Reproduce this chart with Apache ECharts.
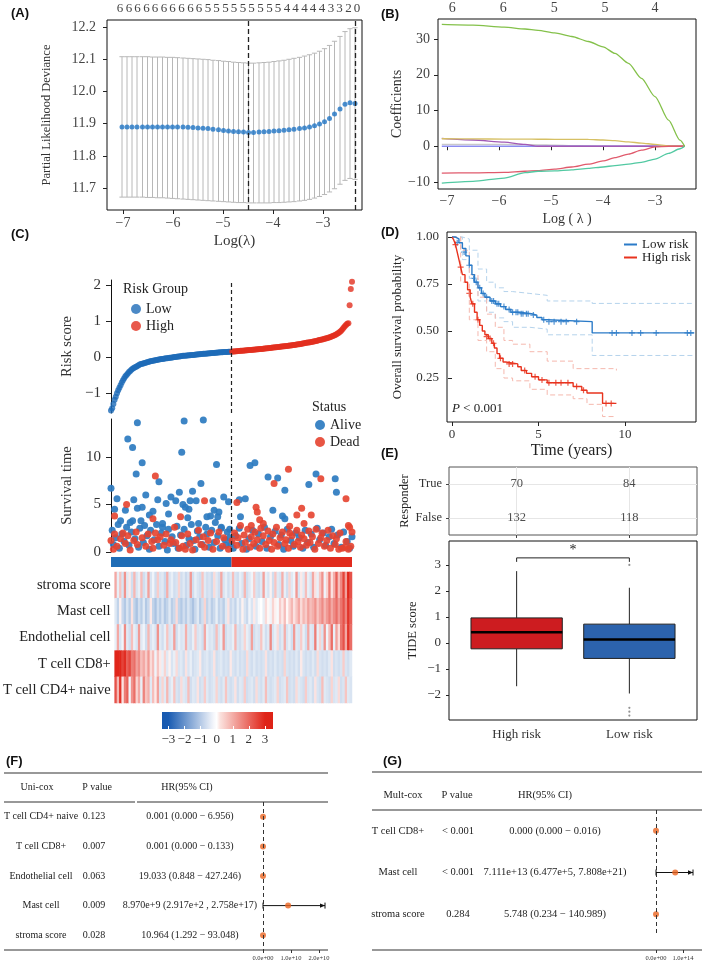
<!DOCTYPE html>
<html><head><meta charset="utf-8">
<script src="https://cdn.jsdelivr.net/npm/echarts@6/dist/echarts.min.js"></script>
<style>html,body{margin:0;padding:0;background:#fff}#c{width:709px;height:971px}</style>
</head><body><div id="c"></div>
<script>
const SERIF='"Liberation Serif","Times New Roman","DejaVu Serif",serif';
const SANS='"Liberation Sans",Arial,sans-serif';

// ---------- Panel A : CV deviance ----------
const lamA=[-7.02,-6.92,-6.82,-6.72,-6.61,-6.51,-6.41,-6.31,-6.21,-6.11,-6.01,-5.91,-5.80,-5.70,-5.60,-5.50,-5.40,-5.30,-5.20,-5.09,-4.99,-4.89,-4.79,-4.69,-4.59,-4.49,-4.39,-4.28,-4.18,-4.08,-3.98,-3.88,-3.78,-3.68,-3.58,-3.47,-3.37,-3.27,-3.17,-3.07,-2.97,-2.87,-2.77,-2.66,-2.56,-2.46,-2.36];
const devMean=[11.890,11.890,11.890,11.890,11.890,11.890,11.890,11.890,11.890,11.890,11.890,11.890,11.890,11.889,11.888,11.887,11.886,11.885,11.883,11.881,11.879,11.877,11.876,11.875,11.874,11.873,11.873,11.874,11.875,11.876,11.877,11.878,11.880,11.881,11.883,11.885,11.887,11.890,11.894,11.899,11.906,11.916,11.930,11.946,11.960,11.965,11.963];
const devUpper=[12.108,12.108,12.108,12.108,12.108,12.108,12.107,12.107,12.107,12.106,12.106,12.105,12.104,12.103,12.102,12.101,12.100,12.099,12.097,12.096,12.094,12.093,12.091,12.090,12.089,12.088,12.088,12.089,12.090,12.091,12.093,12.095,12.097,12.100,12.103,12.106,12.110,12.114,12.119,12.125,12.133,12.143,12.156,12.171,12.186,12.195,12.198];
const devLower=[11.672,11.672,11.672,11.672,11.672,11.671,11.671,11.670,11.670,11.669,11.668,11.667,11.666,11.665,11.664,11.663,11.662,11.661,11.660,11.659,11.658,11.657,11.656,11.655,11.655,11.654,11.654,11.654,11.654,11.654,11.655,11.655,11.656,11.657,11.658,11.660,11.662,11.665,11.669,11.674,11.680,11.688,11.698,11.712,11.724,11.730,11.727];
const lamTopA=[-7.06,-6.88,-6.71,-6.53,-6.36,-6.18,-6.01,-5.83,-5.65,-5.48,-5.30,-5.13,-4.95,-4.78,-4.60,-4.43,-4.25,-4.07,-3.90,-3.72,-3.55,-3.37,-3.20,-3.02,-2.84,-2.67,-2.49,-2.32];
const dfTopA=[6,6,6,6,6,6,6,6,6,6,5,5,5,5,5,5,5,5,5,4,4,4,4,4,3,3,2,0];
const lamMinA=-4.49, lam1seA=-2.36;

// ---------- Panel B : coefficient paths ----------
const lamB=[-7.1,-6.5,-5.9,-5.5,-5.25,-4.93,-4.6,-4.28,-4.0,-3.77,-3.51,-3.26,-3.0,-2.74,-2.52,-2.43];
const coefGreen=[34.1,33.9,33.3,32.8,32.4,31.7,30.7,29.3,27.8,26.0,23.2,19.0,13.9,7.3,1.7,0];
const coefYellow=[2.1,2.05,2.0,1.98,1.96,1.95,1.93,1.9,1.75,1.55,1.2,0.9,0.5,0.1,0,0];
const coefPurple=[2.2,1.75,1.15,0.5,0,0,0,0,0,0,0,0,0,0,0,0];
const coefGrey=[0.55,0.55,0.5,0.45,0.4,0.3,0.2,0.1,0,0,0,0,0,0,0,0];
const coefLavender=[0,0,0,0,0,0,0,0,0,0,0,0,0,0,0,0];
const coefRed=[-7.5,-7.45,-7.3,-7.0,-6.8,-6.4,-5.8,-5.0,-4.1,-3.2,-2.2,-1.1,-0.2,0,0,0];
const coefTeal=[-10.3,-9.8,-8.9,-7.4,-7.0,-6.9,-6.6,-6.2,-5.8,-5.4,-5.0,-4.5,-3.6,-2.0,-0.7,0];
const lamTopB=[-6.9,-5.92,-4.94,-3.96,-3.0];
const dfTopB=[6,6,5,5,4];

// ---------- Panel C : risk score / survival / heatmap ----------
const riskLow=[-1.48,-1.42,-1.30,-1.18,-1.10,-1.00,-0.92,-0.85,-0.78,-0.70,
-0.64,-0.58,-0.53,-0.49,-0.45,-0.41,-0.38,-0.35,-0.32,-0.30,
-0.28,-0.26,-0.24,-0.22,-0.20,-0.19,-0.18,-0.17,-0.16,-0.15,
-0.14,-0.13,-0.12,-0.11,-0.10,-0.095,-0.09,-0.08,-0.075,-0.07,
-0.06,-0.055,-0.05,-0.045,-0.04,-0.035,-0.03,-0.025,-0.02,-0.015,
-0.01,-0.005,0,0.005,0.01,0.015,0.02,0.025,0.03,0.035,
0.04,0.043,0.046,0.049,0.052,0.055,0.058,0.061,0.064,0.067,
0.07,0.074,0.078,0.082,0.086,0.089,0.092,0.095,0.098,0.101,
0.104,0.107,0.11,0.113,0.116,0.119,0.122,0.125,0.128,0.131,
0.134,0.137,0.14,0.142,0.144,0.146,0.148,0.15,0.152,0.154,0.156];
const riskHigh=[0.158,0.161,0.164,0.167,0.17,0.173,0.176,0.179,0.182,0.185,
0.188,0.191,0.194,0.197,0.2,0.203,0.206,0.209,0.212,0.215,
0.218,0.221,0.224,0.227,0.23,0.233,0.237,0.241,0.245,0.249,
0.253,0.257,0.261,0.265,0.269,0.273,0.277,0.281,0.285,0.289,
0.293,0.297,0.301,0.305,0.309,0.313,0.317,0.321,0.325,0.33,
0.335,0.34,0.345,0.35,0.355,0.36,0.366,0.372,0.378,0.384,
0.39,0.396,0.402,0.408,0.414,0.42,0.427,0.434,0.441,0.448,
0.455,0.463,0.471,0.479,0.487,0.495,0.504,0.513,0.522,0.532,
0.542,0.553,0.565,0.578,0.592,0.607,0.623,0.64,0.66,0.68,
0.71,0.74,0.78,0.82,0.86,0.9,0.93,0.95,1.45,1.9,2.1];
// [rank, survival years]
const alivePts=[[2,2.3],[3,0.8],[5,1.5],[7,2.9],[8,0.4],[10,1.9],[12,1.1],[14,2.6],[16,0.7],[18,2.1],[19,3.3],[21,1.4],[24,0.5],[25,2.5],[26,3.3],[28,1.0],[29,2.8],[31,1.7],[33,0.3],[34,2.3],[37,1.3],[39,2.9],[41,0.6],[43,2.0],[44,2.6],[46,1.1],[48,0.2],[49,2.4],[52,1.6],[53,0.9],[56,2.7],[57,0.4],[59,1.8],[62,2.4],[64,0.7],[66,1.4],[68,2.9],[70,1.2],[71,0.3],[73,2.2],[75,1.6],[77,0.8],[80,2.6],[81,1.9],[83,0.5],[85,2.3],[87,1.0],[88,3.1],[90,1.7],[92,0.4],[93,2.5],[96,1.3],[97,0.7],[98,2.1],[100,1.5],[101,0.9],
[1,6.7],[4,4.5],[6,5.6],[13,4.4],[15,11.9],[19,11.0],[20,5.5],[22,8.2],[23,13.6],[23,4.6],[27,9.4],[27,4.7],[30,6.0],[36,4.3],[40,5.5],[41,7.4],[44,3.0],[47,5.1],[51,5.8],[55,5.4],[58,6.3],[60,10.5],[61,5.0],[62,13.8],[63,4.7],[66,4.5],[67,5.4],[69,6.4],[72,5.4],[74,3.0],[76,7.2],[78,13.9],[81,3.7],[86,5.4],[87,4.4],[89,9.2],[90,3.7],[91,4.2],[93,2.6],[95,5.8],[99,5.3],[100,2.4],[9,3.3],[17,3.1],[33,3.9],[49,4.0],[65,3.6],[84,3.8],
[103,0.4],[105,1.7],[108,2.5],[110,0.9],[114,0.3],[116,1.4],[119,2.3],[122,0.6],[124,1.9],[127,1.1],[129,2.6],[131,0.4],[134,1.6],[138,2.2],[141,0.8],[143,1.8],[145,0.3],[148,2.4],[151,1.2],[153,0.6],[155,2.0],[158,1.5],[161,0.4],[163,2.3],[165,1.0],[168,1.9],[170,0.5],[173,2.5],[175,1.3],[178,2.0],[180,0.7],[183,1.6],[185,2.4],[187,0.9],[190,1.8],[193,0.5],[195,2.1],[198,1.1],[200,0.4],[202,1.6],
[108,5.5],[109,3.7],[113,5.6],[117,9.1],[121,9.4],[132,7.9],[136,4.4],[140,7.8],[146,6.5],[144,3.8],[146,3.5],[166,7.1],[172,8.2],[188,7.7],[189,6.3]];
const deadPts=[[1,1.2],[3,0.3],[4,1.9],[6,0.6],[9,1.4],[11,2.0],[13,0.9],[15,1.7],[17,0.2],[20,1.2],[22,2.1],[23,0.8],[27,1.5],[30,0.6],[32,1.9],[35,1.1],[36,0.4],[38,2.0],[40,1.3],[42,1.6],[45,0.7],[47,1.9],[50,0.9],[51,1.3],[54,2.6],[55,1.0],[58,0.4],[60,1.7],[61,0.6],[63,0.3],[65,1.9],[67,0.9],[69,0.2],[72,1.3],[74,2.3],[76,0.8],[78,1.6],[79,0.5],[82,1.2],[84,2.0],[86,0.3],[89,1.1],[91,2.1],[94,0.6],[95,1.5],[99,0.3],
[4,3.8],[14,5.0],[36,3.5],[38,8.0],[59,3.7],[79,5.4],
[102,1.2],[104,2.0],[106,0.7],[107,1.5],[109,2.8],[111,0.3],[112,1.8],[113,1.0],[115,2.4],[117,0.5],[118,1.6],[120,0.9],[121,2.1],[123,1.3],[125,0.4],[126,2.5],[128,1.7],[130,0.8],[132,2.2],[133,1.2],[135,0.3],[136,1.9],[137,1.0],[139,2.6],[140,0.6],[142,1.5],[144,2.1],[146,0.9],[147,1.3],[149,0.4],[150,2.0],[152,1.7],[154,0.8],[156,2.3],[157,1.1],[159,0.5],[160,1.8],[162,1.4],[164,0.7],[166,2.2],[167,1.0],[169,1.6],[171,0.3],[172,2.4],[174,0.9],[176,1.5],[177,2.0],[179,0.6],[181,1.2],[182,2.3],[184,0.4],[186,1.7],[188,0.8],[189,1.4],[191,0.3],[192,2.0],[194,0.4],[196,0.5],[197,1.1],[199,0.3],[201,0.6],[202,2.1],
[106,5.2],[118,2.8],[122,4.7],[123,4.2],[125,3.4],[128,3.0],[137,7.2],[149,8.7],[150,2.7],[156,3.9],[160,4.6],[162,3.0],[168,3.9],[176,7.7],[197,5.6],[199,2.8],[200,2.6]];
const heatRows=['stroma score','Mast cell','Endothelial cell','T cell CD8+','T cell CD4+ naive'];
const heatStroma=[1.2,-0.3,0.8,-0.5,1.5,-0.4,0.3,-0.6,1.0,-0.5,
-0.3,0.9,-0.6,-0.4,1.3,-0.5,-0.2,-0.6,0.7,-0.5,
-0.4,-0.7,1.1,-0.5,-0.3,-0.6,-0.5,0.6,-0.6,-0.4,
-0.7,-0.5,1.4,-0.6,-0.3,-0.5,-0.6,0.8,-0.4,-0.6,
-0.5,-0.7,0.5,-0.4,-0.6,1.2,-0.5,-0.3,-0.6,-0.4,
0.9,-0.5,-0.6,-0.3,-0.5,1.0,-0.6,-0.4,-0.2,0.7,
-0.5,-0.6,-0.4,1.3,-0.3,-0.5,0.2,-0.6,0.8,-0.4,
-0.5,1.1,-0.3,-0.6,0.6,-0.4,-0.2,1.4,-0.5,0.3,
-0.4,0.9,-0.3,-0.5,1.2,0.4,-0.3,0.8,1.5,-0.2,
0.6,1.8,0.4,1.1,2.2,0.9,1.6,2.6,1.3,3.0,2.4];
const heatMast=[-0.4,-0.8,0.2,-0.7,-1.0,-0.5,-0.9,0.4,-0.8,-1.1,
-0.6,-0.9,-0.4,-1.0,-0.7,0.3,-0.8,-1.1,-0.6,-0.9,
-0.5,-1.0,-0.8,-0.4,-0.9,-0.7,0.5,-0.8,-1.0,-0.6,
-0.9,-0.5,-0.8,-1.1,-0.7,-0.4,-0.9,-0.6,0.6,-0.8,
-0.5,-0.9,-0.7,-0.3,-0.8,-0.6,-0.9,-0.4,0.4,-0.7,
-0.5,-0.8,-0.3,-0.6,0.2,-0.5,-0.7,-0.2,-0.5,0.3,
-0.4,-0.1,0.0,-0.3,0.5,0.1,-0.2,0.6,0.2,-0.1,
0.7,0.3,0.9,0.1,0.6,1.0,0.4,0.8,1.2,0.5,
1.0,0.7,1.3,0.9,1.1,1.5,0.8,1.2,1.6,1.0,
1.4,1.8,1.2,1.6,2.0,1.4,1.9,2.4,1.7,2.8,2.2];
const heatEndo=[-0.3,1.2,-0.5,-0.2,1.6,-0.4,-0.6,0.9,-0.3,-0.5,
1.4,-0.4,-0.2,-0.6,1.0,-0.5,-0.3,-0.5,1.5,-0.4,
-0.6,-0.3,0.8,-0.5,-0.4,1.3,-0.6,-0.3,-0.5,-0.4,
1.1,-0.5,-0.6,-0.3,0.7,-0.5,-0.4,-0.6,1.2,-0.3,
-0.5,-0.4,-0.6,0.9,-0.5,-0.3,1.4,-0.6,-0.4,-0.5,
-0.3,1.0,-0.5,-0.6,-0.4,0.6,-0.3,-0.5,1.3,-0.6,
-0.4,-0.5,0.8,-0.3,-0.6,-0.4,1.6,-0.5,-0.3,0.5,
-0.6,-0.4,1.1,-0.5,-0.3,-0.6,1.4,-0.4,-0.5,0.7,
-0.3,-0.6,1.2,-0.4,-0.5,1.8,-0.3,0.6,-0.5,1.5,
-0.2,0.9,2.0,-0.3,1.3,0.5,1.9,2.4,1.2,2.8,2.0];
const heatCD8=[3.4,3.0,3.2,2.6,2.9,2.2,2.5,1.8,2.0,1.3,
1.6,0.9,1.2,0.7,1.4,0.5,0.9,-0.2,0.8,0.3,
-0.3,0.6,-0.4,0.2,-0.5,-0.3,0.5,-0.5,-0.4,-0.6,
0.4,-0.5,-0.3,-0.6,-0.5,-0.4,0.3,-0.6,-0.5,-0.4,
-0.6,-0.5,0.4,-0.6,-0.5,-0.4,-0.6,-0.5,-0.6,0.3,
-0.5,-0.6,-0.4,-0.6,-0.5,-0.6,0.5,-0.5,-0.6,-0.4,
-0.6,-0.5,-0.6,-0.5,0.4,-0.6,-0.5,-0.6,-0.4,-0.6,
-0.5,-0.6,0.6,-0.5,-0.6,-0.5,-0.6,-0.4,-0.6,0.3,
-0.5,-0.6,-0.5,-0.6,-0.4,-0.6,0.5,-0.5,-0.6,-0.5,
-0.6,-0.4,0.4,-0.6,-0.5,-0.6,-0.5,0.7,-0.5,-0.6,-0.4];
const heatCD4=[2.4,1.0,2.8,0.4,1.8,2.2,-0.2,1.5,2.0,0.6,
1.2,-0.3,1.7,0.8,1.1,-0.4,0.9,0.3,1.3,-0.5,
0.6,-0.4,1.0,-0.5,-0.3,0.8,-0.5,-0.6,0.5,-0.4,
-0.5,0.9,-0.6,-0.4,-0.5,0.4,-0.6,-0.5,0.7,-0.4,
-0.6,-0.5,-0.4,0.6,-0.5,-0.6,-0.4,0.8,-0.5,-0.6,
-0.5,0.4,-0.6,-0.4,-0.5,0.7,-0.6,-0.5,-0.4,-0.6,
0.5,-0.5,-0.6,-0.4,0.9,-0.5,-0.6,-0.5,-0.4,0.6,
-0.6,-0.5,-0.4,0.8,-0.6,-0.5,-0.6,0.5,-0.4,-0.5,
-0.6,0.7,-0.5,-0.4,-0.6,0.4,-0.5,-0.6,0.9,-0.4,
-0.5,-0.6,0.6,-0.5,-0.4,0.5,-0.6,-0.5,0.8,-0.4,-0.5];
const colorbarTicks=[-3,-2,-1,0,1,2,3];

// ---------- Panel D : Kaplan-Meier ----------
const kmLow=[[0,1],[0.2,0.99],[0.4,0.97],[0.6,0.94],[0.8,0.9],[1.0,0.85],[1.15,0.8],[1.3,0.76],[1.5,0.73],[1.7,0.7],[1.9,0.68],[2.2,0.66],[2.5,0.645],[2.8,0.63],[3.1,0.615],[3.4,0.6],[3.9,0.592],[4.6,0.585],[4.9,0.572],[5.2,0.56],[5.5,0.55],[8.1,0.49],[14,0.49]];
const kmHigh=[[0,1],[0.1,0.985],[0.2,0.96],[0.3,0.92],[0.4,0.88],[0.5,0.84],[0.6,0.8],[0.75,0.76],[0.9,0.72],[1.05,0.68],[1.15,0.645],[1.3,0.6],[1.45,0.56],[1.6,0.53],[1.75,0.5],[1.9,0.48],[2.1,0.46],[2.3,0.435],[2.45,0.41],[2.6,0.38],[2.75,0.355],[2.95,0.335],[3.1,0.325],[3.8,0.31],[4.0,0.29],[4.3,0.275],[4.6,0.257],[5.0,0.24],[5.5,0.225],[7.0,0.205],[7.5,0.185],[7.8,0.17],[8.7,0.115],[9.5,0.115]];
const censorLow=[[0.3,0.97],[0.7,0.92],[1.0,0.85],[1.25,0.78],[1.4,0.76],[1.6,0.73],[1.8,0.7],[2.0,0.68],[2.3,0.66],[2.4,0.66],[2.6,0.645],[2.7,0.645],[3.0,0.63],[3.3,0.615],[3.5,0.6],[3.7,0.6],[3.8,0.6],[4.0,0.592],[4.1,0.592],[4.3,0.592],[4.4,0.592],[4.7,0.585],[5.3,0.56],[5.6,0.55],[5.9,0.55],[6.3,0.55],[6.6,0.55],[7.2,0.55],[9.25,0.49],[9.5,0.49],[10.4,0.49],[10.9,0.49],[11.8,0.49],[13.6,0.49],[13.8,0.49]];
const censorHigh=[[0.2,0.96],[0.5,0.84],[1.0,0.7],[1.2,0.645],[1.5,0.56],[2.0,0.47],[2.2,0.46],[2.4,0.435],[2.8,0.355],[3.3,0.325],[3.5,0.325],[4.2,0.29],[4.8,0.257],[5.2,0.24],[5.6,0.225],[6.0,0.225],[6.3,0.225],[6.7,0.225],[7.2,0.205],[7.6,0.185],[8.9,0.115],[9.2,0.115]];
const ciLowUpper=[[0,1],[0.6,0.99],[1.0,0.93],[1.5,0.83],[2.0,0.76],[2.5,0.73],[3.0,0.71],[3.5,0.7],[4.5,0.69],[5.5,0.66],[8.1,0.647],[14,0.647]];
const ciLowLower=[[0,1],[0.6,0.88],[1.0,0.78],[1.5,0.66],[2.0,0.6],[2.5,0.57],[3.0,0.55],[3.5,0.52],[4.5,0.51],[5.5,0.48],[8.1,0.37],[14,0.37]];
const ciHighUpper=[[0,1],[0.5,0.93],[1.0,0.8],[1.5,0.68],[2.0,0.59],[2.5,0.52],[3.0,0.45],[3.5,0.43],[4.5,0.39],[5.5,0.34],[7.0,0.3],[9.5,0.29]];
const ciHighLower=[[0,1],[0.5,0.76],[1.0,0.56],[1.5,0.45],[2.0,0.39],[2.5,0.3],[3.0,0.25],[3.5,0.235],[4.5,0.19],[5.5,0.16],[7.0,0.14],[7.8,0.11],[8.7,0.045],[9.5,0.045]];

// ---------- Panel E : TIDE ----------
const riskGroups=['High risk','Low risk'];
const respTrue=[70,84];
const respFalse=[132,118];
const boxHigh=[-1.67,-0.23,0.41,0.96,2.76];
const boxLow=[-1.95,-0.6,0.13,0.72,2.12];
const outHigh=[];
const outLow=[3.0,-2.5,-2.65,-2.8];
const sigMark={from:1,to:2,y:3.27,label:'*'};

// ---------- Panel F : uni-cox ----------
const fNames=['T cell CD4+ naive','T cell CD8+','Endothelial cell','Mast cell','stroma score'];
const fP=['0.123','0.007','0.063','0.009','0.028'];
const fHRtext=['0.001 (0.000 − 6.956)','0.001 (0.000 − 0.133)','19.033 (0.848 − 427.246)','8.970e+9 (2.917e+2 , 2.758e+17)','10.964 (1.292 − 93.048)'];
const fHR=[0.001,0.001,19.033,8.970e9,10.964];
const fLo=[0.000,0.000,0.848,2.917e2,1.292];
const fHi=[6.956,0.133,427.246,2.758e17,93.048];
const fTicks=[0,1e10,2e10];
// ---------- Panel G : multi-cox ----------
const gNames=['T cell CD8+','Mast cell','stroma score'];
const gP=['< 0.001','< 0.001','0.284'];
const gHRtext=['0.000 (0.000 − 0.016)','7.111e+13 (6.477e+5, 7.808e+21)','5.748 (0.234 − 140.989)'];
const gHR=[0.000,7.111e13,5.748];
const gLo=[0.000,6.477e5,0.234];
const gHi=[0.016,7.808e21,140.989];
const gTicks=[0,1e14];

// ================= build =================
const minus=v=>(v<0?'−':'')+Math.abs(v);
const expFmt=v=>v.toExponential(1).replace(/e([+-])(\d+)$/,(m,s,d)=>'e'+s+(d.length<2?'0'+d:d));
const lbl=(size,color,extra)=>Object.assign({fontFamily:SERIF,fontSize:size,color:color||'#444'},extra||{});
const tick=(len,extra)=>Object.assign({show:true,length:len,lineStyle:{color:'#222',width:1}},extra||{});
const line0={show:true,onZero:false,lineStyle:{color:'#111',width:1}};
const noAx={show:false};

const grids=[
 {left:107,top:20,width:255,height:190,show:true,borderColor:'#111',borderWidth:1},
 {left:438,top:19,width:258,height:170,show:true,borderColor:'#111',borderWidth:1},
 {left:111,top:280,width:241,height:133},
 {left:111,top:419,width:241,height:133},
 {left:111,top:557,width:241,height:10},
 {left:111,top:572,width:241,height:131},
 {left:162,top:712,width:111,height:17},
 {left:447,top:232,width:249,height:190,show:true,borderColor:'#111',borderWidth:1},
 {left:449,top:467,width:248,height:68,show:true,borderColor:'#555',borderWidth:1},
 {left:449,top:541,width:248,height:179,show:true,borderColor:'#111',borderWidth:1},
 {left:263,top:802,width:62,height:148},
 {left:656,top:810,width:37,height:125}
];

const nRisk=riskLow.length+riskHigh.length;
const heatAll=[heatStroma,heatMast,heatEndo,heatCD8,heatCD4];
const nCols=Math.max(...heatAll.map(r=>r.length));
const heatData=[];
heatAll.forEach((row,r)=>row.forEach((v,c)=>heatData.push([c,r,v])));

const xAxes=[
 {gridIndex:0,type:'value',min:-7.32,max:-2.22,axisLine:noAx,splitLine:noAx,axisTick:tick(4,{customValues:[-7,-6,-5,-4,-3]}),axisLabel:lbl(14,'#444',{customValues:[-7,-6,-5,-4,-3],formatter:minus,margin:6}),name:'Log(λ)',nameLocation:'middle',nameGap:24,nameTextStyle:lbl(15,'#333')},
 {gridIndex:0,type:'value',position:'top',min:-7.32,max:-2.22,axisLine:noAx,splitLine:noAx,axisTick:noAx,axisLabel:lbl(13,'#444',{customValues:lamTopA,formatter:v=>String(dfTopA[lamTopA.indexOf(v)]),margin:5})},
 {gridIndex:1,type:'value',min:-7.173,max:-2.212,axisLine:noAx,splitLine:noAx,axisTick:tick(4,{customValues:[-7,-6,-5,-4,-3]}),axisLabel:lbl(14,'#444',{customValues:[-7,-6,-5,-4,-3],formatter:minus,margin:5}),name:'Log ( λ )',nameLocation:'middle',nameGap:23,nameTextStyle:lbl(14,'#333')},
 {gridIndex:1,type:'value',position:'top',min:-7.173,max:-2.212,axisLine:noAx,splitLine:noAx,axisTick:noAx,axisLabel:lbl(14,'#444',{customValues:lamTopB,formatter:v=>String(dfTopB[lamTopB.indexOf(v)]),margin:4})},
 {gridIndex:2,type:'value',min:1,max:nRisk,show:false},
 {gridIndex:3,type:'value',min:1,max:nRisk,show:false},
 {gridIndex:4,type:'value',min:1,max:nRisk,show:false},
 {gridIndex:5,type:'category',data:Array.from({length:nCols},(_,i)=>String(i)),show:false},
 {gridIndex:6,type:'value',min:-3.4,max:3.5,z:10,axisLine:noAx,splitLine:noAx,axisTick:{show:true,inside:true,length:3,lineStyle:{color:'#fff',width:1},customValues:colorbarTicks},axisLabel:lbl(13,'#333',{customValues:colorbarTicks,formatter:minus,margin:4})},
 {gridIndex:7,type:'value',min:-0.29,max:14.1,axisLine:noAx,splitLine:noAx,axisTick:tick(4,{customValues:[0,5,10]}),axisLabel:lbl(13,'#333',{customValues:[0,5,10],margin:6}),name:'Time (years)',nameLocation:'middle',nameGap:21,nameTextStyle:lbl(16,'#222')},
 {gridIndex:8,type:'value',min:0.4,max:2.6,axisLine:noAx,splitLine:noAx,axisTick:tick(3,{customValues:[1,2],lineStyle:{color:'#444'}}),axisLabel:{show:false}},
 {gridIndex:9,type:'value',min:0.4,max:2.6,axisLine:noAx,splitLine:noAx,axisTick:tick(3,{customValues:[1,2]}),axisLabel:lbl(13,'#333',{customValues:[1,2],formatter:v=>riskGroups[Math.round(v)-1],margin:8})},
 {gridIndex:10,type:'value',min:0,max:2.214e10,axisLine:noAx,splitLine:noAx,axisTick:tick(3,{customValues:fTicks,lineStyle:{color:'#333'}}),axisLabel:lbl(6.5,'#333',{customValues:fTicks,formatter:expFmt,margin:5})},
 {gridIndex:11,type:'value',min:0,max:1.37e14,offset:15,axisLine:noAx,splitLine:noAx,axisTick:tick(3,{customValues:gTicks,lineStyle:{color:'#333'}}),axisLabel:lbl(6.5,'#333',{customValues:gTicks,formatter:expFmt,margin:5})}
];

const colLbl=(offset,data)=>({gridIndex:10,type:'category',inverse:true,data,position:'left',offset,axisLine:noAx,axisTick:noAx,splitLine:noAx,axisLabel:lbl(10,'#222',{align:'center',margin:0})});
const colLblG=(offset,data)=>({gridIndex:11,type:'category',inverse:true,data,position:'left',offset,axisLine:noAx,axisTick:noAx,splitLine:noAx,axisLabel:lbl(10.5,'#222',{align:'center',margin:0})});

const yAxes=[
 {gridIndex:0,type:'value',min:11.632,max:12.222,axisLine:noAx,splitLine:noAx,axisTick:tick(4,{customValues:[11.7,11.8,11.9,12.0,12.1,12.2]}),axisLabel:lbl(14,'#444',{customValues:[11.7,11.8,11.9,12.0,12.1,12.2],formatter:v=>v.toFixed(1),margin:11}),name:'Partial Likelihood Deviance',nameLocation:'middle',nameGap:54,nameTextStyle:lbl(12.5,'#333')},
 {gridIndex:1,type:'value',min:-11.96,max:35.6,axisLine:noAx,splitLine:noAx,axisTick:tick(4,{customValues:[-10,0,10,20,30]}),axisLabel:lbl(14,'#444',{customValues:[-10,0,10,20,30],formatter:minus,margin:8}),name:'Coefficients',nameLocation:'middle',nameGap:33,nameTextStyle:lbl(14,'#333')},
 {gridIndex:2,type:'value',min:-1.55,max:2.15,axisLine:line0,splitLine:noAx,axisTick:tick(5,{customValues:[-1,0,1,2]}),axisLabel:lbl(15,'#333',{customValues:[-1,0,1,2],formatter:minus,margin:10}),name:'Risk score',nameLocation:'middle',nameGap:36,nameTextStyle:lbl(14.5,'#333')},
 {gridIndex:3,type:'value',min:0,max:14,axisLine:line0,splitLine:noAx,axisTick:tick(5,{customValues:[0,5,10]}),axisLabel:lbl(15,'#333',{customValues:[0,5,10],margin:10}),name:'Survival time',nameLocation:'middle',nameGap:36,nameTextStyle:lbl(14.5,'#333')},
 {gridIndex:4,type:'value',min:0,max:1,show:false},
 {gridIndex:5,type:'category',inverse:true,data:heatRows,axisLine:noAx,axisTick:noAx,splitLine:noAx,axisLabel:lbl(14.5,'#222',{margin:4})},
 {gridIndex:6,type:'value',min:0,max:1,show:false},
 {gridIndex:7,type:'value',min:0.016,max:1.027,axisLine:noAx,splitLine:noAx,axisTick:tick(4,{customValues:[0.25,0.5,0.75,1]}),axisLabel:lbl(13,'#333',{customValues:[0.25,0.5,0.75,1],formatter:v=>v.toFixed(2),margin:8}),name:'Overall survival probability',nameLocation:'middle',nameGap:43,nameTextStyle:lbl(13,'#222')},
 {gridIndex:8,type:'category',data:['False','True'],axisLine:noAx,splitLine:noAx,axisTick:tick(3,{lineStyle:{color:'#444'},alignWithLabel:true}),axisLabel:lbl(12.5,'#333',{margin:7}),name:'Responder',nameLocation:'middle',nameGap:35,nameTextStyle:lbl(12.5,'#222')},
 {gridIndex:9,type:'value',min:-2.97,max:3.92,axisLine:noAx,splitLine:noAx,axisTick:tick(3,{customValues:[-2,-1,0,1,2,3]}),axisLabel:lbl(13,'#333',{customValues:[-2,-1,0,1,2,3],formatter:minus,margin:8}),name:'TIDE score',nameLocation:'middle',nameGap:30,nameTextStyle:lbl(12.5,'#222')},
 colLbl(222,fNames), colLbl(169,fP), colLbl(73,fHRtext),
 colLblG(258,gNames), colLblG(198,gP), colLblG(101,gHRtext)
];

const dash={silent:true,symbol:['none','none'],label:{show:false},emphasis:{disabled:true}};

const series=[];
// A error bars
series.push({type:'custom',xAxisIndex:0,yAxisIndex:0,silent:true,
 data:lamA.map((l,i)=>[l,devLower[i],devUpper[i]]),encode:{x:0,y:[1,2]},
 renderItem:(p,api)=>{const x=api.value(0);const lo=api.coord([x,api.value(1)]),hi=api.coord([x,api.value(2)]);const hw=2.6;const st={stroke:'#b8b8b8',lineWidth:1};
  return {type:'group',children:[{type:'line',shape:{x1:lo[0],y1:lo[1],x2:hi[0],y2:hi[1]},style:st},{type:'line',shape:{x1:lo[0]-hw,y1:lo[1],x2:lo[0]+hw,y2:lo[1]},style:st},{type:'line',shape:{x1:hi[0]-hw,y1:hi[1],x2:hi[0]+hw,y2:hi[1]},style:st}]};}});
series.push({type:'scatter',xAxisIndex:0,yAxisIndex:0,silent:true,symbolSize:5,itemStyle:{color:'#1f74c4'},data:lamA.map((l,i)=>[l,devMean[i]]),
 markLine:Object.assign({},dash,{lineStyle:{color:'#222',type:[5,3],width:1.3},data:[{xAxis:lamMinA},{xAxis:lam1seA}]})});
// B coefficient paths
[[coefGrey,'#c9c9c9'],[coefLavender,'#8c8cf0'],[coefPurple,'#a259b5'],[coefYellow,'#d6c064'],[coefRed,'#e05a6c'],[coefTeal,'#52c9a2'],[coefGreen,'#84c14a']].forEach(([v,c])=>{
 series.push({type:'line',xAxisIndex:2,yAxisIndex:1,silent:true,showSymbol:false,smooth:0.25,smoothMonotone:'x',lineStyle:{color:c,width:1.3},data:lamB.map((l,i)=>[l,v[i]])});});
// C risk
const cut=riskLow.length+0.5;
series.push({name:'Low',type:'scatter',xAxisIndex:4,yAxisIndex:2,silent:true,symbolSize:6,itemStyle:{color:'#1e6bb8'},data:riskLow.map((v,i)=>[i+1,v]),
 markLine:Object.assign({},dash,{lineStyle:{color:'#222',type:[4,3],width:1.2},data:[{xAxis:cut}]})});
series.push({name:'High',type:'scatter',xAxisIndex:4,yAxisIndex:2,silent:true,symbolSize:6,itemStyle:{color:'#e2301f'},data:riskHigh.map((v,i)=>[riskLow.length+i+1,v])});
series.push({name:'Alive',type:'scatter',xAxisIndex:5,yAxisIndex:3,silent:true,symbolSize:7,itemStyle:{color:'#2c7bc0',opacity:0.92},data:alivePts,
 markLine:Object.assign({},dash,{lineStyle:{color:'#222',type:[4,3],width:1.2},data:[{xAxis:cut}]})});
series.push({name:'Dead',type:'scatter',xAxisIndex:5,yAxisIndex:3,silent:true,symbolSize:7,itemStyle:{color:'#e5432f',opacity:0.9},data:deadPts});
// group bar
const groupColors=['#1f6db6','#e12a1d'];
series.push({type:'custom',xAxisIndex:6,yAxisIndex:4,silent:true,data:[[1,cut,0],[cut,nRisk,1]],encode:{x:[0,1]},
 renderItem:(p,api)=>{const a=api.coord([api.value(0),1]),b=api.coord([api.value(1),0]);return {type:'rect',shape:{x:a[0],y:a[1],width:b[0]-a[0],height:b[1]-a[1]},style:{fill:groupColors[api.value(2)]}};}});
// heatmap
series.push({type:'heatmap',xAxisIndex:7,yAxisIndex:5,silent:true,data:heatData,itemStyle:{borderWidth:0}});
// colorbar
series.push({type:'custom',xAxisIndex:8,yAxisIndex:6,silent:true,data:[[-3.4,3.5]],encode:{x:[0,1]},z:1,
 renderItem:(p,api)=>{const a=api.coord([api.value(0),1]),b=api.coord([api.value(1),0]);const span=3.5+3.4;
  return {type:'rect',shape:{x:a[0],y:a[1],width:b[0]-a[0],height:b[1]-a[1]},style:{fill:{type:'linear',x:0,y:0,x2:1,y2:0,colorStops:[{offset:0,color:'#1659b0'},{offset:(0.4)/span,color:'#1a5cb2'},{offset:3.2/span,color:'#f4f6fb'},{offset:3.4/span,color:'#ffffff'},{offset:3.6/span,color:'#fbe3df'},{offset:6.4/span,color:'#e02418'},{offset:1,color:'#dd2216'}]}}};}});
// D KM
const ci=(d,c)=>({type:'line',xAxisIndex:9,yAxisIndex:7,silent:true,step:'end',showSymbol:false,lineStyle:{color:c,width:1,type:[5,3]},data:d});
series.push(ci(ciLowUpper,'#b5d3ec'),ci(ciLowLower,'#b5d3ec'),ci(ciHighUpper,'#f5b8ae'),ci(ciHighLower,'#f5b8ae'));
series.push({name:'Low risk',type:'line',xAxisIndex:9,yAxisIndex:7,silent:true,step:'end',showSymbol:false,lineStyle:{color:'#2b7bc8',width:1.4},itemStyle:{color:'#2b7bc8'},data:kmLow});
series.push({name:'High risk',type:'line',xAxisIndex:9,yAxisIndex:7,silent:true,step:'end',showSymbol:false,lineStyle:{color:'#e8331e',width:1.4},itemStyle:{color:'#e8331e'},data:kmHigh});
const plus='path://M4,0H6V4H10V6H6V10H4V6H0V4H4Z';
series.push({type:'scatter',xAxisIndex:9,yAxisIndex:7,silent:true,symbol:plus,symbolSize:6,itemStyle:{color:'#2b7bc8'},data:censorLow});
series.push({type:'scatter',xAxisIndex:9,yAxisIndex:7,silent:true,symbol:plus,symbolSize:6,itemStyle:{color:'#e8331e'},data:censorHigh});
// E table
series.push({type:'scatter',xAxisIndex:10,yAxisIndex:8,silent:true,symbolSize:0,
 data:[[1,'True',respTrue[0]],[2,'True',respTrue[1]],[1,'False',respFalse[0]],[2,'False',respFalse[1]]],
 label:{show:true,position:'inside',formatter:p=>String(p.value[2]),fontFamily:SERIF,fontSize:12.5,color:'#222'},
 markLine:Object.assign({},dash,{z:0,lineStyle:{color:'#e6e6e6',type:'solid',width:1},data:[{xAxis:1},{xAxis:2},{yAxis:'True'},{yAxis:'False'}]})});
// E boxplot
const boxColors=['#cd1c20','#2c63ad'];
series.push({type:'custom',xAxisIndex:11,yAxisIndex:9,silent:true,data:[[1,...boxHigh],[2,...boxLow]],encode:{x:0,y:[1,2,3,4,5]},
 renderItem:(p,api)=>{const x=api.value(0);const c=k=>api.coord([x,api.value(k)]);const mn=c(1),q1=c(2),md=c(3),q3=c(4),mx=c(5);const hw=api.size([0.81,0])[0]/2;
  return {type:'group',children:[
   {type:'line',shape:{x1:mn[0],y1:mn[1],x2:q1[0],y2:q1[1]},style:{stroke:'#222',lineWidth:1}},
   {type:'line',shape:{x1:q3[0],y1:q3[1],x2:mx[0],y2:mx[1]},style:{stroke:'#222',lineWidth:1}},
   {type:'rect',shape:{x:q1[0]-hw,y:q3[1],width:2*hw,height:q1[1]-q3[1]},style:{fill:boxColors[p.dataIndex],stroke:'#222',lineWidth:1}},
   {type:'line',shape:{x1:md[0]-hw,y1:md[1],x2:md[0]+hw,y2:md[1]},style:{stroke:'#000',lineWidth:2.6}}]};}});
series.push({type:'scatter',xAxisIndex:11,yAxisIndex:9,silent:true,symbolSize:2.2,itemStyle:{color:'#777'},data:outHigh.map(v=>[1,v]).concat(outLow.map(v=>[2,v]))});
series.push({type:'custom',xAxisIndex:11,yAxisIndex:9,silent:true,data:[[sigMark.from,sigMark.to,sigMark.y]],encode:{x:[0,1],y:2},
 renderItem:(p,api)=>{const a=api.coord([api.value(0),api.value(2)]),b=api.coord([api.value(1),api.value(2)]);
  return {type:'group',children:[{type:'polyline',shape:{points:[[a[0],a[1]+4],[a[0],a[1]],[b[0],b[1]],[b[0],b[1]+4]]},style:{stroke:'#222',lineWidth:1,fill:null}},
   {type:'text',x:(a[0]+b[0])/2,y:a[1]-1,style:{text:sigMark.label,textAlign:'center',align:'center',textVerticalAlign:'bottom',verticalAlign:'bottom',fontFamily:SERIF,fontSize:14,fill:'#222'}}]};}});
// F/G forest
function forestRender(maxV){return (p,api)=>{const lo=api.value(1),hi=api.value(2),row=api.value(3);
 const a=api.coord([Math.max(lo,0),row]),b=api.coord([Math.min(hi,maxV),row]);
 if(b[0]-a[0]<3) return null;const st={stroke:'#111',lineWidth:1};
 const ch=[{type:'line',shape:{x1:a[0],y1:a[1],x2:b[0],y2:b[1]},style:st},{type:'line',shape:{x1:a[0],y1:a[1]-3,x2:a[0],y2:a[1]+3},style:st},{type:'line',shape:{x1:b[0],y1:b[1]-3,x2:b[0],y2:b[1]+3},style:st}];
 if(hi>maxV) ch.push({type:'polygon',shape:{points:[[b[0],b[1]],[b[0]-5,b[1]-2.2],[b[0]-5,b[1]+2.2]]},style:{fill:'#111'}});
 return {type:'group',children:ch};};}
series.push({type:'custom',xAxisIndex:12,yAxisIndex:10,silent:true,data:fHR.map((h,i)=>[h,fLo[i],fHi[i],i]),encode:{x:0,y:3},renderItem:forestRender(2.214e10)});
series.push({type:'scatter',xAxisIndex:12,yAxisIndex:10,silent:true,symbolSize:6,itemStyle:{color:'#ea6420'},data:fHR.map((h,i)=>[Math.min(h,2.214e10),i]),
 markLine:Object.assign({},dash,{lineStyle:{color:'#333',type:[4,3],width:1},data:[{xAxis:0}]})});
series.push({type:'custom',xAxisIndex:13,yAxisIndex:13,silent:true,data:gHR.map((h,i)=>[h,gLo[i],gHi[i],i]),encode:{x:0,y:3},renderItem:forestRender(1.37e14)});
series.push({type:'scatter',xAxisIndex:13,yAxisIndex:13,silent:true,symbolSize:6,itemStyle:{color:'#ea6420'},data:gHR.map((h,i)=>[Math.min(h,1.37e14),i]),
 markLine:Object.assign({},dash,{lineStyle:{color:'#333',type:[4,3],width:1},data:[{xAxis:0}]})});

const heatIndex=series.findIndex(s=>s.type==='heatmap');

const txt=(x,y,text,size,opts)=>Object.assign({type:'text',x,y,silent:true,style:Object.assign({text,fontFamily:SERIF,fontSize:size,fill:'#222',textAlign:'center',align:'center',textVerticalAlign:'middle',verticalAlign:'middle'},opts||{})});
const hl=(x1,x2,y)=>({type:'line',silent:true,shape:{x1,y1:y,x2,y2:y},style:{stroke:'#333',lineWidth:1.2}});
const panel=(x,y,t)=>({type:'text',x,y,silent:true,style:{text:t,fontFamily:SANS,fontWeight:'bold',fontSize:13,fill:'#111'}});

const graphic=[
 panel(11,7,'(A)'),panel(381,8,'(B)'),panel(11,228,'(C)'),panel(381,226,'(D)'),panel(381,447,'(E)'),panel(6,755,'(F)'),panel(383,755,'(G)'),
 txt(123,289,'Risk Group',14,{textAlign:'left',align:'left'}),
 txt(312,407,'Status',14,{textAlign:'left',align:'left'}),
 {type:'text',x:452,y:409,silent:true,style:{text:'{i|P} < 0.001',textVerticalAlign:'middle',verticalAlign:'middle',fontFamily:SERIF,fontSize:13,fill:'#222',rich:{i:{fontStyle:'italic',fontFamily:SERIF,fontSize:13,fill:'#222'}}}},
 hl(4,328,773),hl(4,135,802),hl(137,328,802),hl(4,328,950),
 txt(37,787,'Uni-cox',10),txt(97,787,'P value',10),txt(187,787,'HR(95% CI)',10),
 hl(372,702,772),hl(372,702,810),hl(372,702,950),
 txt(403,795,'Mult-cox',10.5),txt(457,795,'P value',10.5),txt(545,795,'HR(95% CI)',10.5)
];

const legTxt={fontFamily:SERIF,fontSize:14,color:'#222'};
const option={
 animation:false,backgroundColor:'#fff',
 grid:grids,xAxis:xAxes,yAxis:yAxes,series,graphic,
 visualMap:[{type:'continuous',show:false,min:-3,max:3,seriesIndex:heatIndex,inRange:{color:['#1a5cb0','#ffffff','#e0261b']}}],
 legend:[
  {data:['Low','High'],orient:'vertical',left:131,top:302,padding:0,itemGap:3,itemWidth:10,itemHeight:10,icon:'circle',selectedMode:false,textStyle:legTxt},
  {data:['Alive','Dead'],orient:'vertical',left:315,top:418,padding:0,itemGap:3,itemWidth:10,itemHeight:10,icon:'circle',selectedMode:false,textStyle:legTxt},
  {data:['Low risk','High risk'],orient:'vertical',left:624,top:238,padding:0,itemGap:0,itemWidth:13,itemHeight:2,icon:'rect',selectedMode:false,textStyle:{fontFamily:SERIF,fontSize:13,color:'#222',lineHeight:12}}
 ]
};
const chart=echarts.init(document.getElementById('c'),null,{renderer:'canvas',width:709,height:971});
chart.setOption(option);
</script></body></html>
